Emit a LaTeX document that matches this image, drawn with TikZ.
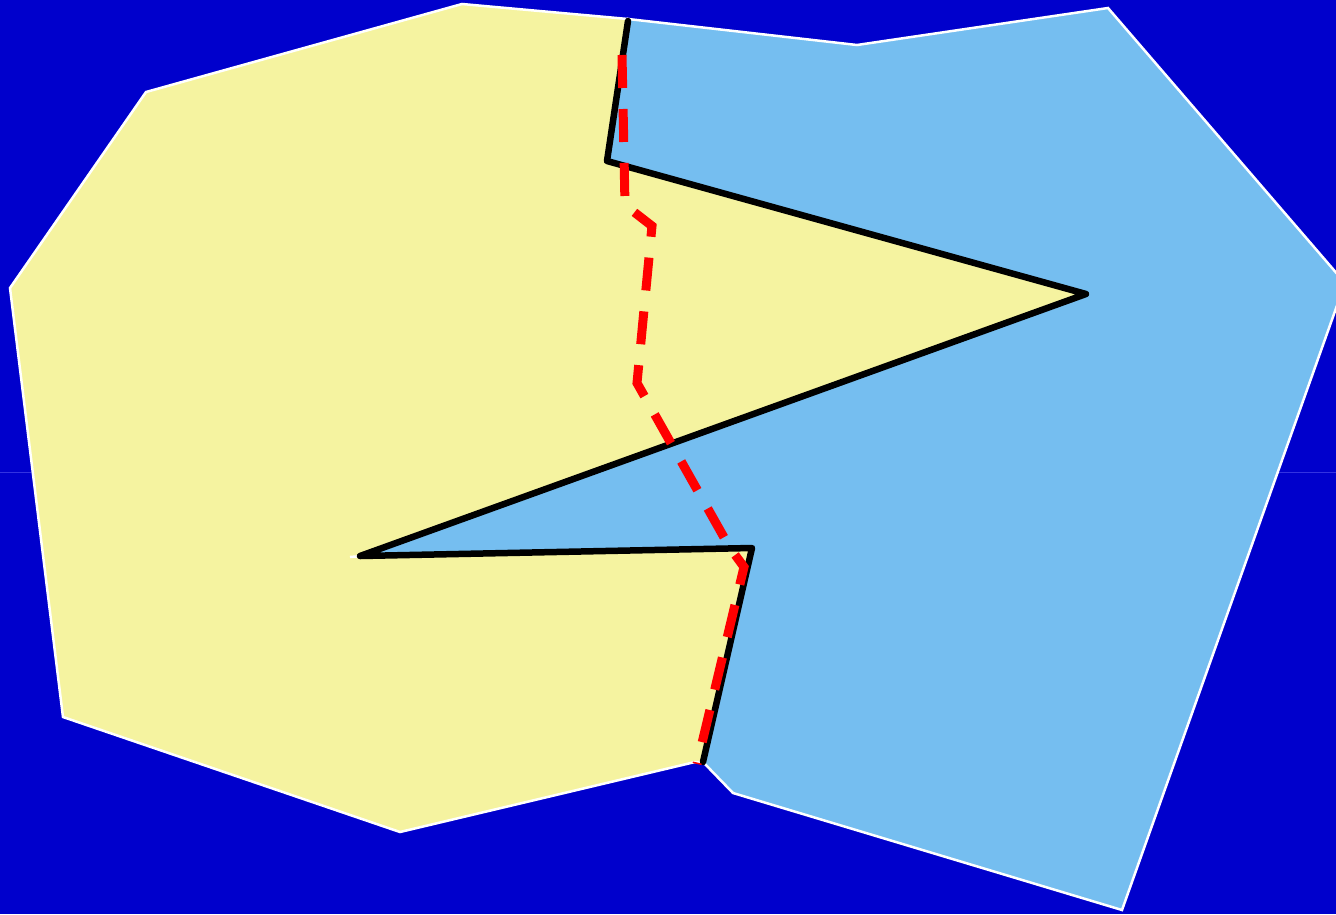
\documentclass[tikz,border=0pt]{standalone}
\definecolor{bg}{RGB}{0,0,204}
\definecolor{bgline}{RGB}{50,50,225}
\definecolor{yel}{RGB}{245,243,160}
\definecolor{lblue}{RGB}{117,190,240}
\definecolor{redd}{RGB}{255,0,0}
\tikzset{
  region/.style={draw=white, line width=2.5pt, line join=miter},
  border/.style={draw=black, line width=6.5pt, line join=round, line cap=round},
  path/.style={draw=redd, line width=9pt, dash pattern=on 33pt off 21pt},
}
\begin{document}
\begin{tikzpicture}[x=1pt,y=-1pt]
\useasboundingbox (0,0) rectangle (1336,914);
\clip (0,0) rectangle (1336,914);
\fill[bg] (0,0) rectangle (1336,914);
\draw[bgline, line width=1pt] (0,472) -- (1336,472);
% yellow region
\fill[yel, region] (462,4) -- (628,19) -- (607,161) -- (1086,294) -- (360,556) -- (752,548) -- (703,762) -- (695,762) -- (400,832) -- (63,717) -- (10,288) -- (146,92) -- cycle;
% blue region
\fill[lblue, region] (628,19) -- (857,45) -- (1108,8) -- (1345,283) -- (1122,910) -- (733,793) -- (703,762) -- (752,548) -- (360,556) -- (1086,294) -- (607,161) -- cycle;
\draw[white, line width=2.5pt] (350,557) -- (362,556);
% black boundary
\draw[border] (628,21) -- (607,161) -- (1086,294) -- (360,556) -- (752,548) -- (703,762);
% red dashed route
\draw[path] (622,55) -- (625,205) -- (652,226) -- (637,383) -- (730,548) -- (744,567) -- (697,764);
\end{tikzpicture}
\end{document}
